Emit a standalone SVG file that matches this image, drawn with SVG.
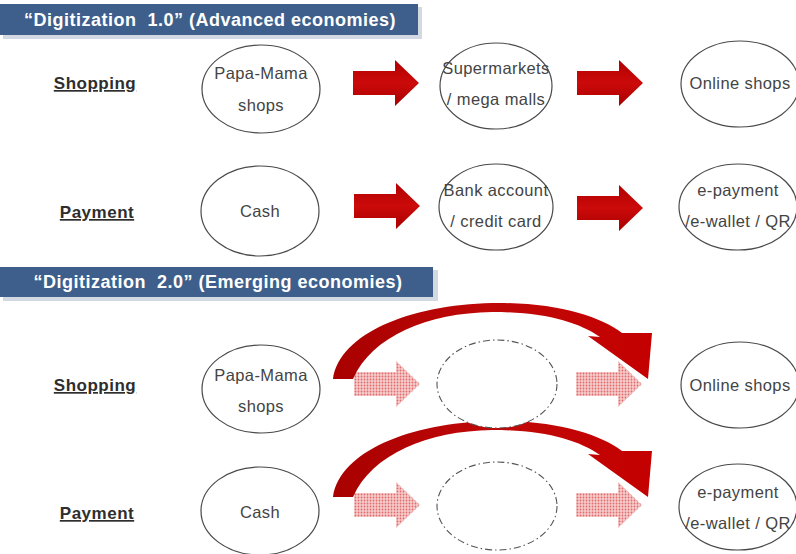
<svg xmlns="http://www.w3.org/2000/svg" width="796" height="554" viewBox="0 0 796 554">
<defs>
<style>
.bn{fill:#3e5f8c}
.bs{fill:#d3d9e2}
.bt{fill:#fff;font-family:"Liberation Sans",Arial,sans-serif;font-weight:bold;font-size:18px;letter-spacing:0.5px;white-space:pre}
.lb{fill:#2e2e2e;font-family:"Liberation Sans",Arial,sans-serif;font-weight:bold;font-size:17px;letter-spacing:0.5px;text-decoration:underline;text-anchor:middle}
.el{fill:#fff;stroke:#4a4a4a;stroke-width:1.2}
.ed{fill:#fff;stroke:#555;stroke-width:1.1;stroke-dasharray:7 3 1.5 3}
.tx{fill:#444;font-family:"Liberation Sans",Arial,sans-serif;font-size:16.5px;letter-spacing:0.4px;text-anchor:middle}
.sa{fill:url(#rg)}
.ha{fill:url(#dots)}
.ca{fill:url(#cg)}
</style>
<linearGradient id="rg" x1="0" y1="0" x2="0" y2="1">
<stop offset="0" stop-color="#b00000"/>
<stop offset="0.5" stop-color="#cc0a0a"/>
<stop offset="1" stop-color="#a80000"/>
</linearGradient>
<linearGradient id="cg" x1="0" y1="0" x2="1" y2="0">
<stop offset="0" stop-color="#a80000"/>
<stop offset="0.5" stop-color="#c00808"/>
<stop offset="1" stop-color="#c40000"/>
</linearGradient>
<pattern id="dots" width="3" height="3" patternUnits="userSpaceOnUse">
<rect width="3" height="3" fill="#f6cccc"/>
<circle cx="1.5" cy="1.5" r="0.9" fill="#e06a6a"/>
</pattern>
<path id="arr" d="M0 -12 L42 -12 L42 -23 L66 0 L42 23 L42 12 L0 12 Z"/>
<path id="carr" d="M333 379 C340 333 410 305 492 303 C555 302 600 316 622 333 L652 333 L648 379 L588 336 L600 337 C578 322 545 312 492 312 C428 313 372 336 353 379 Z"/>
</defs>

<g id="banner1">
<rect class="bs" x="3" y="7" width="419" height="32"/>
<rect class="bn" x="0" y="4" width="418" height="31"/>
<text class="bt" x="210" y="26" text-anchor="middle">“Digitization  1.0” (Advanced economies)</text>
</g>
<g id="banner2">
<rect class="bs" x="3" y="270" width="435" height="31"/>
<rect class="bn" x="0" y="267" width="433" height="30"/>
<text class="bt" x="218" y="288" text-anchor="middle">“Digitization  2.0” (Emerging economies)</text>
</g>

<g id="label-shopping1"><text class="lb" x="95" y="89">Shopping</text></g>
<g id="label-payment1"><text class="lb" x="97" y="218">Payment</text></g>
<g id="label-shopping2"><text class="lb" x="95" y="391">Shopping</text></g>
<g id="label-payment2"><text class="lb" x="97" y="519">Payment</text></g>

<g id="connectors">
<use href="#arr" class="sa" x="353" y="83"/>
<use href="#arr" class="sa" x="577" y="83"/>
<use href="#arr" class="sa" x="354" y="206"/>
<use href="#arr" class="sa" x="577" y="208"/>
<use href="#arr" class="ha" x="354" y="384"/>
<use href="#arr" class="ha" x="576" y="384"/>
<use href="#arr" class="ha" x="354" y="505"/>
<use href="#arr" class="ha" x="576" y="505"/>
<use href="#carr" class="ca"/>
<use href="#carr" class="ca" y="118"/>
</g>

<g id="papamama1">
<ellipse class="el" cx="261" cy="89" rx="59" ry="44"/>
<text class="tx" x="261" y="79">Papa-Mama</text>
<text class="tx" x="261" y="111">shops</text>
</g>
<g id="supermarkets">
<ellipse class="el" cx="496" cy="86" rx="56" ry="43"/>
<text class="tx" x="496" y="74">Supermarkets</text>
<text class="tx" x="496" y="105">/ mega malls</text>
</g>
<g id="online1">
<ellipse class="el" cx="740" cy="84" rx="59" ry="43"/>
<text class="tx" x="740" y="89">Online shops</text>
</g>
<g id="cash1">
<ellipse class="el" cx="260" cy="211" rx="59" ry="45"/>
<text class="tx" x="260" y="217">Cash</text>
</g>
<g id="bank">
<ellipse class="el" cx="496" cy="207" rx="57" ry="43"/>
<text class="tx" x="496" y="196">Bank account</text>
<text class="tx" x="496" y="227">/ credit card</text>
</g>
<g id="epay1">
<ellipse class="el" cx="738" cy="207" rx="59" ry="43"/>
<text class="tx" x="738" y="196">e-payment</text>
<text class="tx" x="738" y="227">/e-wallet / QR</text>
</g>

<g id="papamama2">
<ellipse class="el" cx="261" cy="389" rx="59" ry="44"/>
<text class="tx" x="261" y="381">Papa-Mama</text>
<text class="tx" x="261" y="412">shops</text>
</g>
<g id="empty1">
<ellipse class="ed" cx="497" cy="384" rx="60" ry="44"/>
</g>
<g id="online2">
<ellipse class="el" cx="740" cy="385" rx="59" ry="43"/>
<text class="tx" x="740" y="391">Online shops</text>
</g>
<g id="cash2">
<ellipse class="el" cx="260" cy="511" rx="59" ry="44"/>
<text class="tx" x="260" y="518">Cash</text>
</g>
<g id="empty2">
<ellipse class="ed" cx="497" cy="506" rx="60" ry="44"/>
</g>
<g id="epay2">
<ellipse class="el" cx="738" cy="507" rx="59" ry="43"/>
<text class="tx" x="738" y="498">e-payment</text>
<text class="tx" x="738" y="529">/e-wallet / QR</text>
</g>
</svg>
